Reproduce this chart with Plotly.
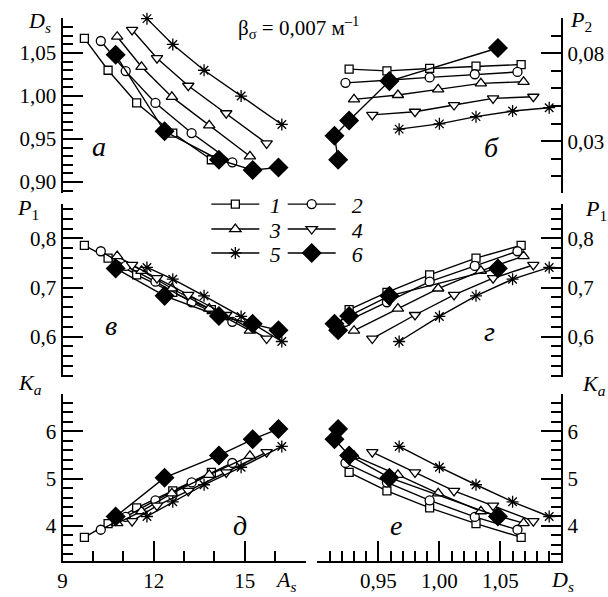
import plotly.graph_objects as go

# ---------------- data (series 1..6, points in order of increasing A_s) -------------
SERIES = ["1", "2", "3", "4", "5", "6"]

A_S = [
    [9.72, 10.50, 11.44, 12.63, 13.90],
    [10.26, 11.08, 12.06, 13.25, 14.59],
    [10.80, 11.60, 12.60, 13.83, 15.17],
    [11.29, 12.11, 13.14, 14.39, 15.72],
    [11.78, 12.63, 13.66, 14.88, 16.22],
    [10.75, 12.36, 14.15, 15.26, 16.11],
]
D_S = [
    [1.067, 1.030, 0.992, 0.957, 0.926],
    [1.064, 1.029, 0.992, 0.957, 0.923],
    [1.069, 1.034, 0.999, 0.966, 0.930],
    [1.077, 1.044, 1.012, 0.980, 0.945],
    [1.090, 1.060, 1.030, 1.000, 0.967],
    [1.048, 0.959, 0.926, 0.914, 0.917],
]
P_1 = [
    [0.786, 0.760, 0.726, 0.690, 0.655],
    [0.774, 0.744, 0.712, 0.670, 0.630],
    [0.764, 0.734, 0.698, 0.657, 0.612],
    [0.746, 0.719, 0.685, 0.644, 0.596],
    [0.741, 0.717, 0.683, 0.641, 0.590],
    [0.739, 0.683, 0.642, 0.626, 0.613],
]
P_2 = [
    [0.0736, 0.0727, 0.0714, 0.0700, 0.0710],
    [0.0694, 0.0681, 0.0663, 0.0647, 0.0632],
    [0.0638, 0.0629, 0.0595, 0.0563, 0.0538],
    [0.0553, 0.0544, 0.0506, 0.0468, 0.0450],
    [0.0491, 0.0472, 0.0440, 0.0399, 0.0369],
    [0.0830, 0.0642, 0.0418, 0.0331, 0.0195],
]
K_A = [
    [3.76, 4.05, 4.38, 4.74, 5.13],
    [3.92, 4.19, 4.54, 4.92, 5.33],
    [4.06, 4.31, 4.69, 5.08, 5.48],
    [4.10, 4.43, 4.74, 5.13, 5.56],
    [4.20, 4.51, 4.87, 5.24, 5.68],
    [4.20, 5.02, 5.49, 5.83, 6.05],
]

A_TICKS = [9, 12, 15]
D_TICKS = [0.95, 1.00, 1.05]
DS_Y_TICKS = [0.90, 0.95, 1.00, 1.05]
P2_TICKS = [0.03, 0.08]
P1_TICKS = [0.6, 0.7, 0.8]
KA_TICKS = [4, 5, 6]

TITLE_TEXT = "β<sub>σ</sub> = 0,007 м<sup>–1</sup>"
PANEL_LETTERS = ["а", "б", "в", "г", "д", "е"]

# ---------------- styles ----------------
SYMBOLS = ["square", "circle", "triangle-up", "triangle-down", "asterisk-open", "diamond"]
SIZES = [8, 9, 10, 10, 10, 14]
FILLS = ["white", "white", "white", "white", "black", "black"]
LEGENDS = ["legend", "legend2", "legend3", "legend4", "legend5", "legend6"]
NAME_PAD = ["\u00a0", "\u00a0\u00a0", "\u00a0", "\u00a0\u00a0", "\u00a0", "\u00a0\u00a0"]

W, H = 608, 597
FONT = "'Liberation Serif', 'Times New Roman', Times, serif"


def fx(px):
    return px / W


def fy(py):
    return 1 - py / H


XL = [fx(58), fx(303)]
XR = [fx(315), fx(561)]
ROW1 = [fy(193.5), fy(18)]
ROW2 = [fy(378.3), fy(205)]
ROW3 = [fy(563), fy(395)]

fig = go.Figure()

panels = [
    ("x", "y", A_S, D_S),
    ("x2", "y2", D_S, P_2),
    ("x3", "y3", A_S, P_1),
    ("x4", "y4", D_S, P_1),
    ("x5", "y5", A_S, K_A),
    ("x6", "y6", D_S, K_A),
]

for i, name in enumerate(SERIES):
    for p, (xa, ya, XD, YD) in enumerate(panels):
        fig.add_trace(go.Scatter(
            x=XD[i], y=YD[i], xaxis=xa, yaxis=ya,
            mode="lines+markers",
            name=NAME_PAD[i] + "<i>" + name + "</i>",
            legend=LEGENDS[i],
            showlegend=(p == 0),
            line=dict(color="black", width=1.4),
            marker=dict(symbol=SYMBOLS[i], size=SIZES[i], color=FILLS[i],
                        line=dict(color="black", width=1.3)),
            cliponaxis=False,
        ))

tickfont = dict(family=FONT, size=21, color="black")
base = dict(showline=True, linecolor="black", linewidth=2, ticks="inside",
            tickcolor="black", tickwidth=2, ticklen=20, showgrid=False,
            zeroline=False, tickfont=tickfont, fixedrange=True)


def minor(d):
    return dict(dtick=d, tick0=0, ticks="inside", ticklen=10, tickwidth=2,
                tickcolor="black", showgrid=False)


hidden_left = dict(domain=XL, range=[9, 17], visible=False, fixedrange=True)
hidden_right = dict(domain=XR, range=[0.90, 1.10], visible=False, fixedrange=True)

fig.update_layout(
    width=W, height=H,
    margin=dict(l=0, r=0, t=0, b=0),
    paper_bgcolor="white", plot_bgcolor="white",
    separators=", ",
    font=dict(family=FONT, color="black"),
    xaxis=dict(hidden_left, anchor="y"),
    xaxis2=dict(hidden_right, anchor="y2"),
    xaxis3=dict(hidden_left, anchor="y3"),
    xaxis4=dict(hidden_right, anchor="y4"),
    xaxis5=dict(base, domain=XL, range=[9, 17], anchor="y5", tickvals=A_TICKS,
                minor=minor(1)),
    xaxis6=dict(base, domain=XR, range=[0.90, 1.10], anchor="y6", tickvals=D_TICKS,
                tickformat=".2f", minor=minor(0.01)),
    yaxis=dict(base, domain=ROW1, range=[0.8875, 1.0908], anchor="x",
               tickvals=DS_Y_TICKS, tickformat=".2f", minor=minor(0.01)),
    yaxis2=dict(base, domain=ROW1, range=[0.0007, 0.1001], anchor="x2", side="right",
                tickvals=P2_TICKS, tickformat=".2f", minor=minor(0.01)),
    yaxis3=dict(base, domain=ROW2, range=[0.5175, 0.8697], anchor="x3",
                tickvals=P1_TICKS, tickformat=".1f", minor=minor(0.02)),
    yaxis4=dict(base, domain=ROW2, range=[0.5175, 0.8697], anchor="x4", side="right",
                tickvals=P1_TICKS, tickformat=".1f", minor=minor(0.02)),
    yaxis5=dict(base, domain=ROW3, range=[3.257, 6.794], anchor="x5",
                tickvals=KA_TICKS, minor=minor(0.2)),
    yaxis6=dict(base, domain=ROW3, range=[3.257, 6.794], anchor="x6", side="right",
                tickvals=KA_TICKS, minor=minor(0.2)),
)

legend_common = dict(orientation="h", xanchor="left", yanchor="middle",
                     font=dict(family=FONT, size=22, color="black"),
                     bgcolor="rgba(0,0,0,0)", borderwidth=0, itemwidth=48,
                     traceorder="normal", itemclick=False,
                     itemdoubleclick=False)
LEG_X = [203, 280]
LEG_Y = [205, 230, 254]
legend_layout = {}
for k, lname in enumerate(LEGENDS):
    legend_layout[lname] = dict(legend_common, x=fx(LEG_X[k % 2]), y=fy(LEG_Y[k // 2]))
fig.update_layout(**legend_layout)

ann = []


def add_text(text, px, py, size=22, xanchor="center"):
    ann.append(dict(text=text, x=fx(px), y=fy(py), xref="paper", yref="paper",
                    showarrow=False, xanchor=xanchor, yanchor="middle",
                    font=dict(family=FONT, size=size, color="black")))


add_text(TITLE_TEXT, 296, 28, size=21)
# axis titles
add_text("<i>D</i><sub><i>s</i></sub>", 35, 22)
add_text("<i>P</i><sub>1</sub>", 23, 210)
add_text("<i>K</i><sub><i>a</i></sub>", 25, 385)
add_text("<i>P</i><sub>2</sub>", 581, 21)
add_text("<i>P</i><sub>1</sub>", 596, 211)
add_text("<i>K</i><sub><i>a</i></sub>", 594, 386)
add_text("<i>A</i><sub><i>s</i></sub>", 283, 583)
add_text("<i>D</i><sub><i>s</i></sub>", 562, 583)
# panel letters
letter_pos = [(95, 147), (491, 148), (107, 327), (489, 333), (237, 527), (394, 527)]
for t, (px, py) in zip(PANEL_LETTERS, letter_pos):
    add_text("<i>" + t + "</i>", px, py, size=28)

fig.update_layout(annotations=ann)

fig.write_html("out.html")
